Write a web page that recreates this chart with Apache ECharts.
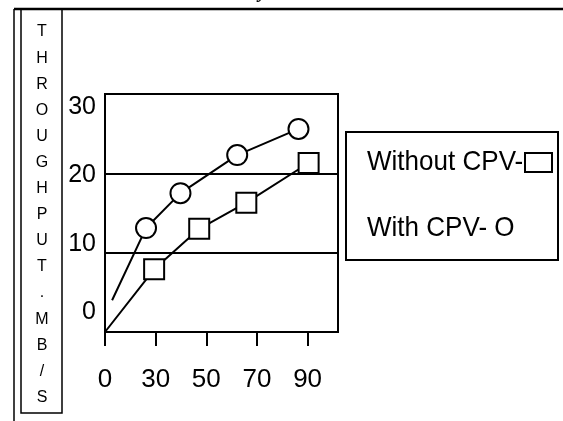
<!DOCTYPE html>
<html>
<head>
<meta charset="utf-8">
<script src="https://cdn.jsdelivr.net/npm/echarts@6/dist/echarts.min.js"></script>
<style>
html,body{margin:0;padding:0;background:#fff;}
#c{width:563px;height:421px;}
</style>
</head>
<body>
<div id="c"></div>
<script>
// ---- data ----
var xTickLabels = ['0', '30', '50', '70', '90'];
var yTickLabels = ['0', '10', '20', '30'];
var seriesNames = ['Without CPV', 'With CPV'];
var legendLabels = ['Without CPV-', 'With CPV- O'];
// positions along the x axis (tick index units) and throughput values
var withoutX = [0, 0.97, 1.86, 2.79, 4.02];
var withoutY = [0, 7.9, 13.0, 16.3, 21.3];
var withX = [0.14, 0.81, 1.49, 2.61, 3.82];
var withY = [4.0, 13.1, 17.5, 22.3, 25.6];
var axisLetters = 'THROUGHPUT.MB/S';

function pairs(xs, ys) {
  return xs.map(function (x, i) {
    var item = { value: [x, ys[i]] };
    if (i === 0) item.symbol = 'none';
    return item;
  });
}

var FONT = 'Liberation Sans';
var chart = echarts.init(document.getElementById('c'), null, { renderer: 'canvas' });
var tickIdx = xTickLabels.map(function (_, i) { return i; });

chart.setOption({
  animation: false,
  backgroundColor: '#fff',
  grid: [
    { left: 105, top: 94, width: 233, height: 238, show: true, borderColor: '#000', borderWidth: 2, backgroundColor: 'transparent' },
    { left: 105, top: 107, width: 1, height: 205, show: false }
  ],
  xAxis: [
    {
      gridIndex: 0, type: 'value', min: 0, max: 4.6,
      axisLine: { show: true, lineStyle: { color: '#000', width: 2 } },
      axisTick: { show: true, inside: false, length: 14, customValues: tickIdx, lineStyle: { color: '#000', width: 2 } },
      axisLabel: {
        customValues: tickIdx, margin: 35, color: '#000', fontFamily: FONT, fontSize: 26,
        formatter: function (v) { return xTickLabels[Math.round(v)]; }
      },
      splitLine: { show: false }
    },
    { gridIndex: 1, type: 'value', show: false, min: 0, max: 1 }
  ],
  yAxis: [
    {
      gridIndex: 0, type: 'value', min: 0, max: 30, interval: 10,
      axisLine: { show: true, lineStyle: { color: '#000', width: 2 } },
      axisTick: { show: false },
      axisLabel: { show: false },
      splitLine: { show: true, lineStyle: { color: '#000', width: 2 } }
    },
    {
      gridIndex: 1, type: 'value', min: 0, max: 30, interval: 10,
      axisLine: { show: false }, axisTick: { show: false }, splitLine: { show: false },
      axisLabel: {
        margin: 9, color: '#000', fontFamily: FONT, fontSize: 25,
        formatter: function (v) { return yTickLabels[Math.round(v / 10)]; }
      }
    }
  ],
  series: [
    {
      name: seriesNames[0], type: 'line', xAxisIndex: 0, yAxisIndex: 0,
      data: pairs(withoutX, withoutY),
      symbol: 'rect', symbolSize: 20, showAllSymbol: true, clip: false,
      lineStyle: { color: '#000', width: 2 },
      itemStyle: { color: '#fff', borderColor: '#000', borderWidth: 2 },
      z: 3
    },
    {
      name: seriesNames[1], type: 'line', xAxisIndex: 0, yAxisIndex: 0,
      data: pairs(withX, withY),
      symbol: 'circle', symbolSize: 20, showAllSymbol: true, clip: false,
      lineStyle: { color: '#000', width: 2 },
      itemStyle: { color: '#fff', borderColor: '#000', borderWidth: 2 },
      z: 3
    }
  ],
  graphic: [
    // page frame
    { type: 'line', shape: { x1: 14, y1: 9, x2: 563, y2: 9 }, style: { stroke: '#000', lineWidth: 2.5 } },
    { type: 'line', shape: { x1: 14, y1: 9, x2: 14, y2: 421 }, style: { stroke: '#000', lineWidth: 1.5 } },
    { type: 'rect', shape: { x: 21, y: 9, width: 41, height: 404 }, style: { fill: 'none', stroke: '#000', lineWidth: 1.5 } },
    {
      type: 'text', x: 42, y: 19,
      style: {
        text: axisLetters.split('').join('\n'), fill: '#000',
        font: '16px ' + FONT, lineHeight: 26.1, align: 'center', verticalAlign: 'top'
      }
    },
    // clipped title fragment
    { type: 'text', x: 263, y: 2, style: { text: 'y', fill: '#000', font: 'italic bold 20px "Liberation Serif"', align: 'center', verticalAlign: 'bottom' } },
    // legend
    { type: 'rect', shape: { x: 346, y: 132, width: 212, height: 128 }, style: { fill: '#fff', stroke: '#000', lineWidth: 2 } },
    { type: 'text', x: 367, y: 162, scaleX: 0.93, style: { text: legendLabels[0], fill: '#000', font: '28px ' + FONT, verticalAlign: 'middle' } },
    { type: 'rect', shape: { x: 525, y: 153, width: 27, height: 19 }, style: { fill: '#fff', stroke: '#000', lineWidth: 2 } },
    { type: 'text', x: 367, y: 228, scaleX: 0.93, style: { text: legendLabels[1], fill: '#000', font: '28px ' + FONT, verticalAlign: 'middle' } }
  ]
});
</script>
</body>
</html>
